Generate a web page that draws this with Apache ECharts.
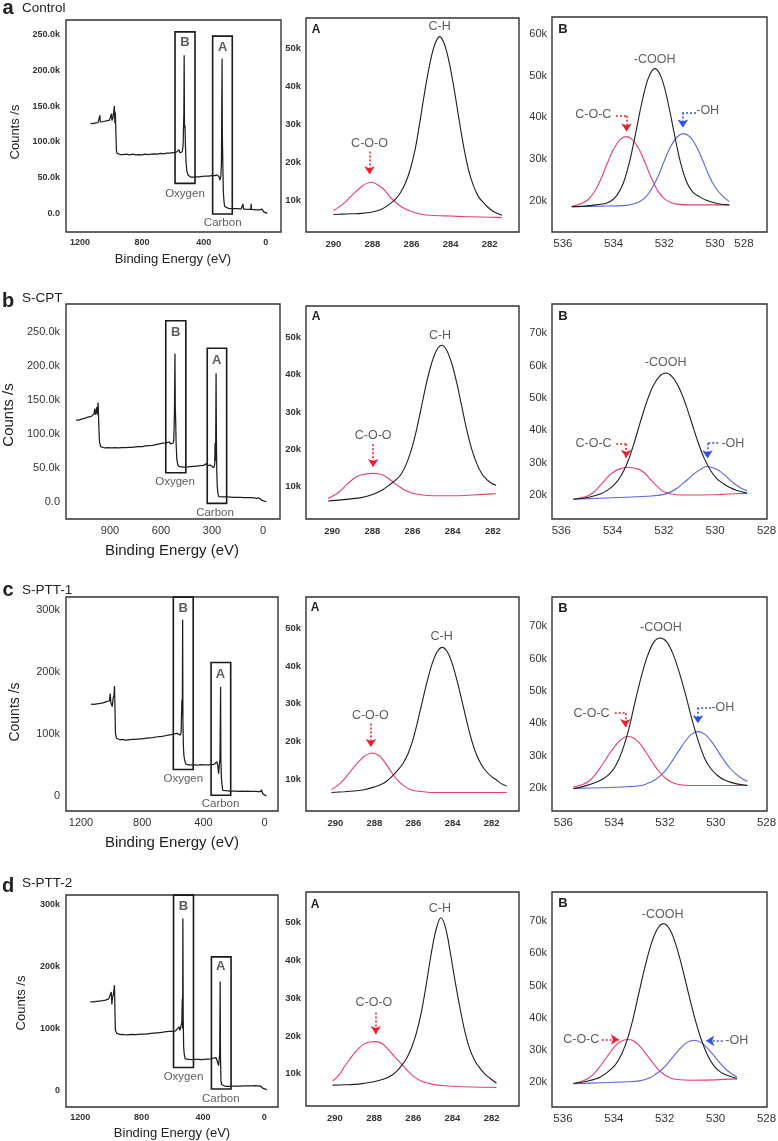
<!DOCTYPE html>
<html><head><meta charset="utf-8">
<script src="https://cdn.jsdelivr.net/npm/echarts@6/dist/echarts.min.js"></script>
<style>html,body{margin:0;padding:0;background:#fff}#c{width:778px;height:1141px}</style>
</head><body><div id="c"></div>
<script>
// ---------------- DATA (energies in eV, intensities in k counts/s) ----------------
const sampleNames = ['Control', 'S-CPT', 'S-PTT-1', 'S-PTT-2'];
const rowLetters = ['a', 'b', 'c', 'd'];

// survey scans
const survey_a = [[1132,126],[1124,127.5],[1116,125.5],[1108,128],[1100,126.5],[1092,128.5],[1084,127],[1076,129],[1072,137],[1069,128],[1060,129.5],[1050,128.5],[1040,130.5],[1030,129.5],[1020,131.5],[1010,130.5],[1002,133],[997,139.5],[994,130],[988,133],[982,135],[978,150],[975,126],[972,141],[968,110],[965,88],[960,84],[950,83],[940,82.5],[930,83.5],[920,82.5],[900,83],[880,82],[860,83],[840,82],[820,82.5],[800,82],[780,83],[760,82.5],[740,83],[720,83.5],[700,83],[680,84],[660,83.5],[640,84.5],[620,84.5],[600,85],[580,85.5],[568,86.5],[560,89],[555,85],[548,84],[540,86],[534,95],[529,140],[527,221],[525,120],[522,123],[519,96],[515,72],[510,60],[503,54],[495,52],[485,51],[470,51],[450,51.5],[430,51.5],[410,52],[390,52.5],[370,52.5],[350,53],[330,53],[315,54],[308,55],[302,52],[296,47],[290,52],[286,70],[282,216],[280,107],[277,70],[274,32],[270,18],[265,10],[258,7.5],[240,7.5],[220,7],[200,7],[180,7],[160,6.5],[148,6.5],[146,13.5],[144,6.5],[130,6.3],[110,6.2],[96,6],[94,13.8],[92,6],[80,5.8],[60,5.5],[40,5.3],[28,5],[24,6.5],[20,4],[12,2.5],[4,1.5],[-10,0.5]];
const survey_b = [[1100,120],[1092,121],[1084,120],[1076,122],[1068,121.5],[1060,123],[1050,122.5],[1040,124],[1030,124.5],[1020,126],[1010,125.5],[1000,127.5],[994,129],[990,137],[987,128],[982,132],[978,139],[975,128],[970,146],[966,112],[962,88],[955,81],[945,79.5],[930,79],[910,79.5],[890,79],[870,79.5],[850,79],[830,79.5],[810,79.5],[790,80],[770,80],[750,80.5],[730,81],[710,81],[690,82],[670,82.5],[650,83],[630,84],[610,85],[590,86],[570,86.5],[550,88],[545,85],[538,84],[530,86],[525,90],[521,130],[518,218],[516,140],[514,122],[511,85],[507,63],[502,55],[495,52],[485,51],[470,51],[450,51],[430,51.5],[410,52],[390,52.5],[370,53],[350,53.5],[340,54],[332,56],[326,53],[318,55],[310,54],[300,53],[290,50],[284,55],[282,86],[279,60],[276,189],[274,90],[272,45],[269,22],[265,12],[260,7.5],[250,7.5],[230,7],[210,7],[190,6.8],[170,6.5],[150,6.5],[130,6.5],[110,6.2],[90,6],[70,6],[50,5.5],[37,5],[25,5.5],[15,4],[5,2],[-20,0]];
const survey_c = [[1135,148],[1125,149],[1115,147.5],[1105,149.5],[1095,148.5],[1085,150],[1075,149],[1065,150.5],[1055,150],[1045,151],[1035,152],[1025,151.5],[1015,153],[1009,165],[1005,150],[1000,148],[996,144],[990,158],[985,162],[981,177],[978,140],[975,101],[968,93],[959,91],[945,90.5],[930,91],[910,90],[890,90.5],[870,91],[850,91],[830,91.5],[810,92],[790,92.5],[770,93],[750,93.5],[730,94],[710,95],[690,95.5],[670,96],[650,97],[630,98],[610,99],[590,100],[572,101],[564,103],[559,100],[552,98],[546,102],[541,155],[538,130],[536,284],[534,120],[531,80],[528,66],[523,58],[517,52],[510,50.5],[500,50],[480,50],[460,50],[440,49.5],[420,50.5],[400,50],[392,53],[388,49.5],[370,50],[350,50.5],[330,51],[318,53],[312,55],[306,48],[301,36],[296,51],[292,60],[288,176],[286,60],[283,31],[279,18],[274,9.2],[265,8.5],[250,8.5],[230,8],[210,8],[190,7.8],[170,7.5],[150,8],[130,7.5],[110,7.8],[90,7.5],[82,10],[78,7.5],[60,7.3],[40,7],[25,7],[21,10.3],[17,6.5],[10,3],[0,1],[-11,0]];
const survey_d = [[1135,143],[1125,144],[1115,143],[1105,144.5],[1095,144],[1085,145],[1075,144.5],[1065,145.5],[1055,145],[1045,146.5],[1035,146],[1026,146],[1015,148],[1005,150],[998,159],[994,139],[990,150],[984,155],[977,170],[974,130],[971,97],[962,92],[950,90.8],[935,90],[920,90.5],[900,89.5],[880,90],[860,90.5],[840,90],[820,90.5],[800,91],[780,91],[760,91.5],[740,92],[720,92.5],[700,93],[680,93.5],[660,94],[640,95],[620,95.5],[600,95.5],[581,95.7],[570,98],[555,102.7],[550,97],[544,96],[538,110],[535,148],[533,100],[531,278],[529,120],[526,70],[522,58],[516,51],[508,50],[490,50],[470,49.5],[450,50],[430,50],[410,49.5],[390,50],[370,50.5],[350,51],[330,52],[315,53],[310,53],[303,51],[298,40],[294,52],[291,60],[288,176],[286,55],[283,16],[278,9],[270,7],[255,6.5],[235,6.5],[215,6.5],[200,6.8],[185,6.6],[155,6.8],[154,9],[152,6.7],[130,7.2],[106,7.3],[104,9.5],[102,7.2],[80,7.3],[60,7.4],[40,7.2],[30,7.5],[28,9],[25,6.8],[16,5],[8,3],[-16,1]];

// survey boxes: [eV high, eV low, top k, bottom k]
const boxB_a = [586,457,253.5,42.3], boxA_a = [343,216,247.5,-0.4];
const boxB_b = [572,454,266,42.6],   boxA_b = [328,214,225.6,-2.4];
const boxB_c = [597,467,320.3,42.6], boxA_c = [350,222,214.9,1.1];
const boxB_d = [592,462,316,36.8],   boxA_d = [345,217,216,2];

// C1s (A) fits
const c1s_a_CH  = [[290,6.2],[289.56,6.3],[289.06,6.4],[288.56,6.5],[288.06,6.8],[287.56,7.5],[287.06,9.2],[286.81,10.3],[286.56,12],[286.31,14.5],[286.06,18.2],[285.81,23.5],[285.56,31],[285.31,39],[285.06,46],[284.81,51],[284.56,53.1],[284.31,51],[284.06,46],[283.81,39],[283.56,31],[283.31,23.5],[283.06,17.5],[282.81,13.5],[282.56,10.8],[282.31,9.3],[282.06,8],[281.81,7],[281.56,6.4],[281.37,6]];
const c1s_a_COO = [[290,7.2],[289.5,9],[289,11.5],[288.5,13.8],[288.07,14.7],[287.5,13.2],[287,10.3],[286.5,8.2],[286,7],[285.5,6.3],[285,6],[284,5.8],[283,5.6],[282,5.5],[281.37,5.4]];
const c1s_b_CH  = [[290.2,6.2],[289.55,6.5],[288.55,7.1],[288.05,7.8],[287.55,9],[287.05,10.9],[286.8,12],[286.55,13.5],[286.3,16.2],[286.05,20],[285.8,25.2],[285.55,31.5],[285.3,37.8],[285.05,43],[284.8,46.5],[284.55,47.8],[284.3,46.5],[284.05,43],[283.8,37.8],[283.55,31.5],[283.3,25.2],[283.05,20],[282.8,16.2],[282.55,13.5],[282.3,11.9],[282.05,10.9],[281.84,10.4]];
const c1s_b_COO = [[290.2,6.9],[289.75,8.2],[289.5,9.4],[289.25,10.7],[289,11.9],[288.75,12.8],[288.5,13.3],[287.92,13.6],[287.5,13.2],[287.25,12.4],[287,11.4],[286.75,10.4],[286.5,9.5],[286.25,8.8],[286,8.3],[285.5,7.8],[285,7.6],[284,7.6],[283,7.8],[282,8.1],[281.84,8.2]];
const c1s_c_CH  = [[290.2,6.6],[289.53,6.8],[289.03,7],[288.53,7.3],[288.03,8],[287.53,9],[287.28,10],[287.03,11.2],[286.78,12.6],[286.53,14.3],[286.28,16.8],[286.03,20.5],[285.78,25.5],[285.53,31],[285.28,36.3],[285.03,40.8],[284.78,43.8],[284.53,44.9],[284.28,43.8],[284.03,40.8],[283.78,36.3],[283.53,31],[283.28,25.5],[283.03,20.5],[282.78,16.6],[282.53,14],[282.28,12.2],[282.03,10.9],[281.78,10],[281.53,9],[281.23,8.3]];
const c1s_c_COO = [[290.2,7.4],[290,8],[289.75,9],[289.5,10.4],[289.25,12],[289,13.6],[288.75,15],[288.5,16.2],[288.12,17],[287.75,16.3],[287.5,14.8],[287.25,12.9],[287,11],[286.75,9.5],[286.5,8.4],[286.25,7.6],[286,7.1],[285.5,6.8],[285,6.6],[283,6.6],[281.23,6.6]];
const c1s_d_CH  = [[290.12,7],[289.5,7.1],[289,7.2],[288.5,7.5],[288,7.9],[287.5,8.6],[287.08,9.7],[286.83,10.8],[286.58,12.3],[286.33,14.2],[286.08,17],[285.84,20.8],[285.59,26.2],[285.34,33.5],[285.09,41.5],[284.84,48],[284.59,51.2],[284.35,48.5],[284.1,41.7],[283.85,34],[283.6,27],[283.35,20.8],[283.1,16.3],[282.85,13.4],[282.6,11.5],[282.35,10],[282.1,8.9],[281.75,7.5]];
const c1s_d_COO = [[290.12,8.1],[290,8.6],[289.75,10],[289.5,12],[289.25,13.8],[289,15.5],[288.75,16.9],[288.5,17.9],[288.25,18.4],[287.91,18.5],[287.6,18],[287.3,16.6],[287,14.8],[286.75,13.4],[286.5,12],[286.25,10.6],[286,9.4],[285.75,8.5],[285.5,7.9],[285,7.2],[284.5,6.9],[284,6.7],[283,6.5],[281.75,6.4]];

// O1s (B) fits
const o1s_a_COOH = [[535.65,18.6],[535.12,18.7],[534.87,18.9],[534.37,19.3],[534.12,19.9],[533.87,21.3],[533.62,24.2],[533.37,29.4],[533.12,36.5],[532.87,44],[532.62,49.6],[532.37,51.7],[532.12,49.6],[531.87,44],[531.62,36.5],[531.37,29.4],[531.12,24.5],[530.87,22],[530.62,21],[530.37,20.2],[529.87,19.3],[529.44,19]];
const o1s_a_COC  = [[535.65,18.6],[535.25,19.4],[535,20.3],[534.75,22.2],[534.5,25.2],[534.25,29],[534,32.4],[533.75,34.6],[533.5,35.4],[533.25,34.6],[533,32.4],[532.75,29],[532.5,25.3],[532.25,22.3],[532,20.5],[531.75,19.6],[531.5,19.2],[531,19],[530,19],[529.44,19]];
const o1s_a_OH   = [[535.65,18.6],[534.5,18.7],[533.5,18.9],[533.25,19.2],[533,19.7],[532.75,20.8],[532.5,22.8],[532.25,25.8],[532,29.6],[531.75,33],[531.5,35.3],[531.25,36.1],[531,35.4],[530.75,33.2],[530.5,29.9],[530.25,26.2],[530,23.3],[529.75,21.4],[529.44,19.8]];
const o1s_b_COOH = [[535.53,18.7],[534.93,19.3],[534.43,20.5],[534.18,21.6],[533.93,23.2],[533.68,25.8],[533.43,29.8],[533.18,35.5],[532.93,42.2],[532.68,48.5],[532.43,53.5],[532.18,56.6],[531.93,57.7],[531.68,56.6],[531.43,53.5],[531.18,48.7],[530.93,42.7],[530.68,36.6],[530.43,31.4],[530.18,27.6],[529.93,25],[529.68,23.5],[529.43,22.3],[529.18,21.5],[528.76,20.6]];
const o1s_b_COC  = [[535.53,18.7],[535,19.6],[534.75,20.8],[534.5,22.8],[534.25,25.1],[534,26.9],[533.75,28],[533.41,28.6],[533,28],[532.75,26.8],[532.5,24.6],[532.25,22.6],[532,21],[531.5,20.1],[531,20],[530,20.1],[529.5,20.3],[528.76,20.5]];
const o1s_b_OH   = [[535.53,18.7],[534.5,19],[533.5,19.3],[532.5,19.7],[532,20.2],[531.75,20.9],[531.5,22],[531.25,23.6],[531,25.3],[530.75,27],[530.5,28.3],[530.33,28.8],[530,28.2],[529.75,27],[529.5,25.2],[529.25,23.5],[529,22.2],[528.76,21.3]];
const o1s_c_COOH = [[535.61,19.7],[535.18,20.5],[534.68,21.8],[534.43,22.8],[534.18,24.3],[533.93,27],[533.68,31.5],[533.43,38],[533.18,46.5],[532.93,54.5],[532.68,61],[532.43,65.2],[532.18,66.4],[531.93,65.2],[531.68,61.4],[531.43,55.6],[531.18,48.6],[530.93,41],[530.68,34.3],[530.43,29],[530.18,25.8],[529.93,23.8],[529.68,22.5],[529.18,21.2],[528.75,20.7]];
const o1s_c_COC  = [[535.61,20.2],[535.25,21],[535,22],[534.75,24],[534.5,26.8],[534.25,29.8],[534,32.6],[533.75,34.8],[533.5,35.9],[533.25,35.5],[533,33.8],[532.75,31],[532.5,28],[532.25,25.2],[532,23.1],[531.75,21.8],[531.5,21.1],[531,20.7],[530,20.7],[528.75,20.8]];
const o1s_c_OH   = [[535.61,19.8],[534.5,20],[533.5,20.3],[533,20.6],[532.7,21.3],[532.45,22.2],[532.2,23.6],[531.95,25.6],[531.7,28.5],[531.45,31.5],[531.2,34.4],[530.95,36.6],[530.7,37.4],[530.45,36.7],[530.2,34.7],[529.95,31.8],[529.7,28.8],[529.45,26.2],[529.2,24.2],[528.95,22.8],[528.75,22]];
const o1s_d_COOH = [[535.59,19.7],[535.05,20.4],[534.55,21.6],[534.05,24.5],[533.8,27.2],[533.55,31.5],[533.3,38],[533.05,46.5],[532.8,55],[532.55,62.4],[532.3,67.4],[532.05,69.2],[531.8,67.4],[531.55,62.4],[531.3,55.2],[531.05,47.1],[530.8,39.4],[530.55,33],[530.3,28.2],[530.05,25],[529.8,23.2],[529.55,22.2],[529.16,21.2]];
const o1s_d_COC  = [[535.59,19.7],[535.25,20.4],[535,21.3],[534.75,23],[534.5,25.4],[534.25,28.2],[534,30.8],[533.75,32.6],[533.45,33.3],[533.25,33],[533,31.4],[532.75,29],[532.5,26.4],[532.25,24],[532,22.3],[531.75,21.3],[531.5,20.9],[531,20.7],[530,20.8],[529.16,21.1]];
const o1s_d_OH   = [[535.59,19.6],[534.5,19.9],[533.5,20.2],[533,20.5],[532.6,21.4],[532.35,22.6],[532.1,24.1],[531.85,26.2],[531.6,28.6],[531.35,30.9],[531.1,32.5],[530.85,33.1],[530.6,32.5],[530.35,30.9],[530.1,28.6],[529.85,26.2],[529.6,24.1],[529.35,22.6],[529.16,21.7]];

// tick labels
const svXTicks400 = [0, 400, 800, 1200];
const svXTicks300 = [0, 300, 600, 900];
const svYTicks50  = [0, 50, 100, 150, 200, 250];
const svYTicks100 = [0, 100, 200, 300];
const c1sXTicks = [282, 284, 286, 288, 290];
const c1sYTicks = [10, 20, 30, 40, 50];
const o1sXTicks = [528, 530, 532, 534, 536];
const o1sYTicks60 = [20, 30, 40, 50, 60];
const o1sYTicks70 = [20, 30, 40, 50, 60, 70];

// ---------------- LAYOUT ----------------
const FONT = '"Liberation Sans", Arial, Helvetica, sans-serif';
const RED = '#e6416b', BLUE = '#5b63e3', BLACK = '#1e1e1e';
const ARED = '#e8202c', ABLUE = '#2d4fe0';

const rows = [
  { survey: survey_a, boxes: [boxB_a, boxA_a], sv: [66, 20, 215, 212], svX: [-99, 1291], svY: [-25.5, 270],
    svXT: svXTicks400, svYT: svYTicks50, svFmt: v => v === 0 ? '0.0' : v.toFixed(1) + 'k', svFs: 9, svFw: 'bold',
    svNotes: [['B', 521.7, 238.2], ['A', 278, 231.8], ['Oxygen', 521.7, 28.4], ['Carbon', 278, -12.5]],
    A: [306, 18, 213, 214], AX: [280.5, 291.4], AY: [1.6, 58], CH: c1s_a_CH, COO: c1s_a_COO,
    aNotes: { CH: [284.56, 55.7], COO: [288.15, 25.0], arrow: [[288.15, 22.8], [288.15, 16.8]] },
    B: [552, 17, 215, 215], BX: [527.95, 536.43], BY: [12.5, 64.1], BYT: o1sYTicks60,
    COOH: o1s_a_COOH, COC: o1s_a_COC, OH: o1s_a_OH, shift528: 528.86,
    bNotes: { COOH: [532.38, 54.0], COC: [534.8, 40.6], red: [[533.91, 40.4], [533.49, 40.4], [533.49, 36.6]],
              OH: [530.29, 41.7], blue: [[530.75, 41.2], [531.27, 41.2], [531.27, 37.6]] },
    title: { y: 8, ly: 8 }, counts: { x: 15, y: 132, fs: 13 }, bind: { x: 173, y: 259, fs: 13 },
    letA: [316, 30], letB: [563, 29] },
  { survey: survey_b, boxes: [boxB_b, boxA_b], sv: [66, 304, 214, 215], svX: [-100, 1159], svY: [-25.4, 290.7],
    svXT: svXTicks300, svYT: svYTicks50, svFmt: v => v === 0 ? '0.0' : v.toFixed(1) + 'k', svFs: 11, svFw: 'normal',
    svNotes: [['B', 513.5, 248.5], ['A', 272.4, 208.4], ['Oxygen', 517.6, 29.4], ['Carbon', 282.4, -16.2]],
    A: [306, 306, 213, 213], AX: [280.7, 291.3], AY: [1.4, 58.3], CH: c1s_b_CH, COO: c1s_b_COO,
    aNotes: { CH: [284.63, 50.5], COO: [287.96, 23.8], arrow: [[287.96, 21.4], [287.96, 15.3]] },
    B: [552, 304, 215, 215], BX: [527.98, 536.36], BY: [12.6, 79], BYT: o1sYTicks70,
    COOH: o1s_b_COOH, COC: o1s_b_COC, OH: o1s_b_OH, shift528: null,
    bNotes: { COOH: [531.93, 60.8], COC: [534.74, 35.8], red: [[533.86, 35.8], [533.47, 35.8], [533.47, 31.5]],
              OH: [529.31, 36.0], blue: [[529.88, 36.0], [530.30, 36.0], [530.30, 31.4]] },
    title: { y: 301, ly: 298 }, counts: { x: 9, y: 415, fs: 15 }, bind: { x: 172, y: 551, fs: 15 },
    letA: [316, 317], letB: [563, 316] },
  { survey: survey_c, boxes: [boxB_c, boxA_c], sv: [66, 597, 212, 214], svX: [-87, 1298], svY: [-24.2, 320.5],
    svXT: svXTicks400, svYT: svYTicks100, svFmt: v => v === 0 ? '0' : v + 'k', svFs: 11, svFw: 'normal',
    svNotes: [['B', 531.9, 302.7], ['A', 288.4, 196.1], ['Oxygen', 531.9, 27], ['Carbon', 288.4, -12.3]],
    A: [306, 597, 213, 214], AX: [280.6, 291.5], AY: [1.7, 58.2], CH: c1s_c_CH, COO: c1s_c_COO,
    aNotes: { CH: [284.56, 47.8], COO: [288.21, 26.8], arrow: [[288.18, 24.8], [288.18, 18.6]] },
    B: [552, 597, 215, 214], BX: [527.98, 536.45], BY: [12.8, 79.1], BYT: o1sYTicks70,
    COOH: o1s_c_COOH, COC: o1s_c_COC, OH: o1s_c_OH, shift528: null,
    bNotes: { COOH: [532.16, 69.7], COC: [534.89, 43.1], red: [[533.98, 43.1], [533.56, 43.1], [533.56, 38.8]],
              OH: [529.72, 45.0], blue: [[530.18, 44.8], [530.70, 44.8], [530.70, 40.0]] },
    title: { y: 590, ly: 590 }, counts: { x: 15, y: 712, fs: 14 }, bind: { x: 172, y: 843, fs: 15 },
    letA: [315, 608], letB: [563, 608] },
  { survey: survey_d, boxes: [boxB_d, boxA_d], sv: [66, 895, 212, 212], svX: [-89, 1293], svY: [-27.1, 316.2],
    svXT: svXTicks400, svYT: svYTicks100, svFmt: v => v === 0 ? '0' : v + 'k', svFs: 9, svFw: 'bold',
    svNotes: [['B', 527.3, 298.4], ['A', 283.9, 200], ['Oxygen', 527.3, 21.6], ['Carbon', 283.9, -13.5]],
    A: [306, 892, 213, 214], AX: [280.6, 291.48], AY: [1.5, 58], CH: c1s_d_CH, COO: c1s_d_COO,
    aNotes: { CH: [284.64, 53.6], COO: [288.01, 28.9], arrow: [[287.92, 26.2], [287.92, 20.5]] },
    B: [552, 892, 215, 215], BX: [527.98, 536.43], BY: [12.4, 79], BYT: o1sYTicks70,
    COOH: o1s_d_COOH, COC: o1s_d_COC, OH: o1s_d_OH, shift528: null,
    bNotes: { COOH: [532.08, 72.1], COC: [535.28, 33.3], red: [[534.48, 33.3], [533.80, 33.3]],
              OH: [529.17, 32.9], blue: [[529.72, 32.9], [530.37, 32.9]] },
    title: { y: 886, ly: 883 }, counts: { x: 21, y: 1003, fs: 13 }, bind: { x: 172, y: 1133, fs: 13 },
    letA: [315, 905], letB: [563, 903] }
];

// ---------------- BUILD ----------------
const grids = [], xAxes = [], yAxes = [], series = [], graphics = [];

function addPanel(box, xr, yr, xt, yt, xfmt, yfmt, fs, fw, xm, ym, xfs) {
  const i = grids.length;
  grids.push({ left: box[0], top: box[1], width: box[2], height: box[3], show: true,
    containLabel: false, outerBoundsMode: 'none',
    borderColor: '#333', borderWidth: 1.4, backgroundColor: 'transparent' });
  const lab = { color: '#333', fontFamily: FONT, fontWeight: fw, showMinLabel: true, showMaxLabel: true, hideOverlap: false };
  xAxes.push({ type: 'value', gridIndex: i, inverse: true, min: xr[0], max: xr[1], scale: true,
    splitLine: { show: false }, axisLine: { show: false }, axisTick: { show: false },
    axisLabel: Object.assign({}, lab, { customValues: xt, formatter: xfmt, fontSize: xfs || fs, margin: xm }) });
  yAxes.push({ type: 'value', gridIndex: i, min: yr[0], max: yr[1], scale: true,
    splitLine: { show: false }, axisLine: { show: false }, axisTick: { show: false },
    axisLabel: Object.assign({}, lab, { customValues: yt, formatter: yfmt, fontSize: fs, margin: ym }) });
  return i;
}
function line(i, data, color, w, smooth) {
  series.push({ type: 'line', xAxisIndex: i, yAxisIndex: i, data: data, symbol: 'none', showSymbol: false,
    smooth: smooth, silent: true, animation: false, lineStyle: { color: color, width: w } });
  return series[series.length - 1];
}
function texts(i, items, fs, fw, arrows, acolor) {
  const s = { type: 'scatter', xAxisIndex: i, yAxisIndex: i, symbolSize: 0, silent: true, animation: false, clip: false,
    data: items.map(t => ({ value: [t[1], t[2]], label: { formatter: t[0] } })),
    label: { show: true, position: 'inside', color: '#333', fontFamily: FONT, fontSize: fs, fontWeight: fw } };
  if (arrows) {
    const segs = [];
    for (let k = 0; k < arrows.length - 1; k++) {
      segs.push([{ coord: arrows[k], symbol: 'none' },
                 { coord: arrows[k + 1], symbol: k === arrows.length - 2 ? 'arrow' : 'none' }]);
    }
    s.markLine = { silent: true, animation: false, symbol: ['none', 'none'], symbolSize: 8, precision: 5,
      label: { show: false }, emphasis: { disabled: true },
      lineStyle: { color: acolor, width: 1.6, type: [2, 2], opacity: 1 }, data: segs };
  }
  series.push(s);
}
function gtext(x, y, text, font, rot) {
  graphics.push({ type: 'text', x: x, y: y, rotation: rot || 0, silent: true,
    style: { text: text, font: font, fill: '#222', align: 'center', verticalAlign: 'middle',
             textAlign: 'center', textVerticalAlign: 'middle' } });
}

rows.forEach((r, ri) => {
  // survey panel
  const si = addPanel(r.sv, r.svX, r.svY, r.svXT, r.svYT, v => String(v), r.svFmt, r.svFs, r.svFw, 6, 6);
  const sl = line(si, r.survey, BLACK, 1.25, false);
  sl.markArea = { silent: true, animation: false, label: { show: false },
    itemStyle: { color: 'rgba(0,0,0,0)', borderColor: '#1a1a1a', borderWidth: 1.6 },
    data: r.boxes.map(b => [{ coord: [b[0], b[2]] }, { coord: [b[1], b[3]] }]) };
  texts(si, r.svNotes.slice(0, 2), 13, 'bold');
  texts(si, r.svNotes.slice(2), 11.5, 'normal');

  // C1s panel (A)
  const ai = addPanel(r.A, r.AX, r.AY, c1sXTicks, c1sYTicks, v => String(v), v => v + 'k', 9.5, 'bold', 7, 5);
  line(ai, r.COO, RED, 1.1, 0.35);
  line(ai, r.CH, BLACK, 1.1, 0.35);
  texts(ai, [['C-H', r.aNotes.CH[0], r.aNotes.CH[1]]], 12.5, 'normal');
  texts(ai, [['C-O-O', r.aNotes.COO[0], r.aNotes.COO[1]]], 12.5, 'normal', r.aNotes.arrow, ARED);

  // O1s panel (B)
  let bxt = o1sXTicks, bxf = v => String(v);
  if (r.shift528) { bxt = [r.shift528, 530, 532, 534, 536]; bxf = v => v < 529 ? '528' : String(v); }
  const bi = addPanel(r.B, r.BX, r.BY, bxt, r.BYT, bxf, v => v + 'k', 11, 'normal', 6, 5, 11.5);
  line(bi, r.COC, RED, 1.1, 0.35);
  line(bi, r.OH, BLUE, 1.1, 0.35);
  line(bi, r.COOH, BLACK, 1.1, 0.35);
  texts(bi, [['-COOH', r.bNotes.COOH[0], r.bNotes.COOH[1]]], 12.5, 'normal');
  texts(bi, [['C-O-C', r.bNotes.COC[0], r.bNotes.COC[1]]], 12.5, 'normal', r.bNotes.red, ARED);
  texts(bi, [['-OH', r.bNotes.OH[0], r.bNotes.OH[1]]], 12.5, 'normal', r.bNotes.blue, ABLUE);

  // texts
  gtext(8, r.title.y, rowLetters[ri], 'bold 20px ' + FONT);
  graphics.push({ type: 'text', x: 22, y: r.title.ly, silent: true,
    style: { text: sampleNames[ri], font: '13.5px ' + FONT, fill: '#222', align: 'left', verticalAlign: 'middle',
             textAlign: 'left', textVerticalAlign: 'middle' } });
  gtext(r.counts.x, r.counts.y, 'Counts /s', r.counts.fs + 'px ' + FONT, Math.PI / 2);
  gtext(r.bind.x, r.bind.y, 'Binding Energy (eV)', r.bind.fs + 'px ' + FONT);
  gtext(r.letA[0], r.letA[1], 'A', 'bold 12px ' + FONT);
  gtext(r.letB[0], r.letB[1], 'B', 'bold 13px ' + FONT);
});

const chart = echarts.init(document.getElementById('c'), null, { renderer: 'canvas' });
chart.setOption({
  animation: false,
  backgroundColor: '#ffffff',
  textStyle: { fontFamily: FONT },
  grid: grids, xAxis: xAxes, yAxis: yAxes, series: series, graphic: { elements: graphics }
});
</script></body></html>
